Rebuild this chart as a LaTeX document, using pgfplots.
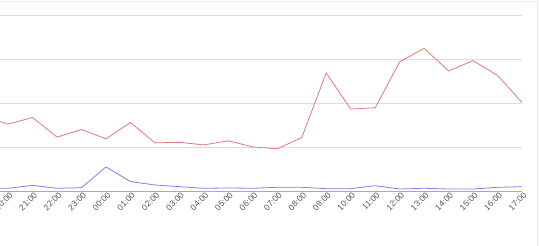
\documentclass[border=0pt]{standalone}
\usepackage{pgfplots}
\pgfplotsset{compat=1.18}
\usepackage{fontspec}
\setmainfont{Liberation Sans}
\definecolor{redline}{HTML}{E27878}
\definecolor{blueline}{HTML}{8080E8}
\definecolor{gridc}{HTML}{DDDDDD}
\definecolor{basec}{HTML}{AAAAAA}
\definecolor{labc}{HTML}{555555}
\begin{document}
\begin{tikzpicture}
\useasboundingbox (0,-54.5bp) rectangle (540bp,191.5bp);
\begin{axis}[
  at={(0,0)}, anchor=south west,
  scale only axis, width=522bp, height=176.5bp,
  xmin=-0.331, xmax=21, ymin=0, ymax=4,
  axis line style={draw=none},
  major tick length=0pt,
  xtick={0,...,21},
  xticklabels={20:00,21:00,22:00,23:00,00:00,01:00,02:00,03:00,04:00,05:00,06:00,07:00,08:00,09:00,10:00,11:00,12:00,13:00,14:00,15:00,16:00,17:00},
  xticklabel style={rotate=45, anchor=east, font=\fontsize{8.5}{9}\selectfont, text=labc, inner sep=0.5pt, yshift=-4bp, xshift=1bp},
  ytick={1,2,3,4}, yticklabels={},
  ymajorgrids, grid style={gridc, line width=0.7pt},
  extra y ticks={0}, extra y tick labels={},
  extra y tick style={grid style={basec, line width=0.7pt}},
  clip=true,
]
\addplot[redline, line width=0.8pt] coordinates {
(-1,1.70) (0,1.527) (1,1.677) (2,1.232) (3,1.405) (4,1.193) (5,1.564) (6,1.102) (7,1.114) (8,1.057) (9,1.148) (10,1.011) (11,0.966) (12,1.223) (13,2.686) (14,1.868) (15,1.898) (16,2.936) (17,3.245) (18,2.732) (19,2.966) (20,2.632) (21,2.018)};
\addplot[blueline, line width=0.8pt] coordinates {
(-1,0.073) (0,0.073) (1,0.14) (2,0.073) (3,0.086) (4,0.557) (5,0.225) (6,0.148) (7,0.109) (8,0.073) (9,0.08) (10,0.073) (11,0.095) (12,0.095) (13,0.064) (14,0.064) (15,0.132) (16,0.057) (17,0.073) (18,0.057) (19,0.057) (20,0.095) (21,0.109)};
\node[font=\fontsize{8}{9}\selectfont, text=labc] at (axis cs:9.52,0) [yshift=-39.5bp] {Real time};
\end{axis}
\draw[gray!15, line width=0.8pt] (0,190.5bp) -- (537bp,190.5bp) -- (537bp,-54.5bp);
\end{tikzpicture}
\end{document}
